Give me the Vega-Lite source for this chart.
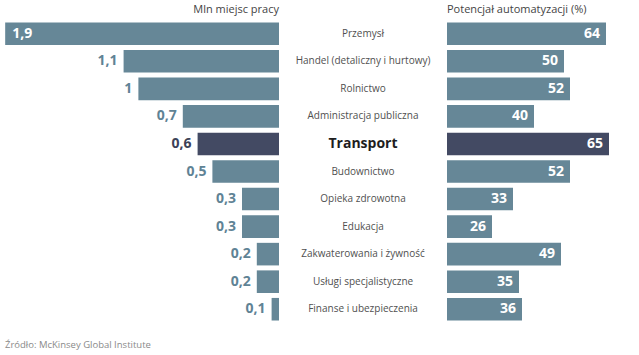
{
  "$schema": "https://vega.github.io/schema/vega-lite/v6.json",
  "padding": {"top": 4, "left": 0, "right": 0, "bottom": 0},
  "background": "white",
  "spacing": 0,
  "bounds": "flush",
  "config": {
    "view": {"stroke": null},
    "font": "Open Sans",
    "locale": {"number": {"decimal": ",", "thousands": " ", "grouping": [3], "currency": ["", " zł"]}}
  },
  "data": {"values": [
    {"sector": "Przemysł", "jobs": 1.9, "auto": 64},
    {"sector": "Handel (detaliczny i hurtowy)", "jobs": 1.1, "auto": 50},
    {"sector": "Rolnictwo", "jobs": 1.0, "auto": 52},
    {"sector": "Administracja publiczna", "jobs": 0.7, "auto": 40},
    {"sector": "Transport", "jobs": 0.6, "auto": 65},
    {"sector": "Budownictwo", "jobs": 0.5, "auto": 52},
    {"sector": "Opieka zdrowotna", "jobs": 0.3, "auto": 33},
    {"sector": "Edukacja", "jobs": 0.3, "auto": 26},
    {"sector": "Zakwaterowania i żywność", "jobs": 0.2, "auto": 49},
    {"sector": "Usługi specjalistyczne", "jobs": 0.2, "auto": 35},
    {"sector": "Finanse i ubezpieczenia", "jobs": 0.1, "auto": 36}
  ]},
  "title": {"text": "Źródło: McKinsey Global Institute", "orient": "bottom", "anchor": "start", "fontSize": 9.5, "fontWeight": "normal", "color": "#8a8a8a", "offset": 17, "dx": 5},
  "hconcat": [
    {
      "width": 279,
      "height": 303,
      "title": {"text": "Mln miejsc pracy", "anchor": "end", "fontSize": 11, "fontWeight": "normal", "color": "#444444", "offset": 5},
      "encoding": {
        "y": {"field": "sector", "type": "nominal", "sort": null, "axis": null, "scale": {"paddingInner": 0.18, "paddingOuter": 0.09}}
      },
      "layer": [
        {
          "mark": {"type": "bar"},
          "encoding": {
            "x": {"field": "jobs", "type": "quantitative", "axis": null, "scale": {"domain": [0.05, 1.935], "reverse": true, "zero": false, "nice": false}},
            "x2": {"datum": 0.05},
            "color": {"condition": {"test": "datum.sector === 'Transport'", "value": "#434a63"}, "value": "#668797"}
          }
        },
        {
          "transform": [{"filter": "datum.jobs < 1.5"}],
          "mark": {"type": "text", "align": "right", "baseline": "middle", "dx": -6, "fontWeight": "bold", "fontSize": 14},
          "encoding": {
            "x": {"field": "jobs", "type": "quantitative"},
            "text": {"field": "jobs", "type": "quantitative", "format": "~g"},
            "color": {"condition": {"test": "datum.sector === 'Transport'", "value": "#3c4258"}, "value": "#5f8395"}
          }
        },
        {
          "transform": [{"filter": "datum.jobs >= 1.5"}],
          "mark": {"type": "text", "align": "left", "baseline": "middle", "dx": 7, "fontWeight": "bold", "fontSize": 14, "color": "white"},
          "encoding": {
            "x": {"field": "jobs", "type": "quantitative"},
            "text": {"field": "jobs", "type": "quantitative", "format": "~g"}
          }
        }
      ]
    },
    {
      "width": 168,
      "height": 303,
      "encoding": {
        "y": {"field": "sector", "type": "nominal", "sort": null, "axis": null, "scale": {"paddingInner": 0.18, "paddingOuter": 0.09, "domain": ["Przemysł", "Handel (detaliczny i hurtowy)", "Rolnictwo", "Administracja publiczna", "Transport", "Budownictwo", "Opieka zdrowotna", "Edukacja", "Zakwaterowania i żywność", "Usługi specjalistyczne", "Finanse i ubezpieczenia"]}}
      },
      "layer": [
        {
          "transform": [{"filter": "datum.sector !== 'Transport'"}],
          "mark": {"type": "text", "align": "center", "baseline": "middle", "fontSize": 10, "color": "#505050"},
          "encoding": {"text": {"field": "sector", "type": "nominal"}}
        },
        {
          "transform": [{"filter": "datum.sector === 'Transport'"}],
          "mark": {"type": "text", "align": "center", "baseline": "middle", "fontSize": 14, "fontWeight": "bold", "color": "#1e1e1e"},
          "encoding": {"text": {"field": "sector", "type": "nominal"}}
        }
      ]
    },
    {
      "width": 192,
      "height": 303,
      "title": {"text": "Potencjał automatyzacji (%)", "anchor": "start", "fontSize": 11, "fontWeight": "normal", "color": "#444444", "offset": 5},
      "encoding": {
        "y": {"field": "sector", "type": "nominal", "sort": null, "axis": null, "scale": {"paddingInner": 0.18, "paddingOuter": 0.09}}
      },
      "layer": [
        {
          "mark": {"type": "bar"},
          "encoding": {
            "x": {"field": "auto", "type": "quantitative", "axis": null, "scale": {"domain": [11, 75], "zero": false, "nice": false}},
            "x2": {"datum": 11},
            "color": {"condition": {"test": "datum.sector === 'Transport'", "value": "#434a63"}, "value": "#668797"}
          }
        },
        {
          "mark": {"type": "text", "align": "right", "baseline": "middle", "dx": -6, "fontWeight": "bold", "fontSize": 14, "color": "white"},
          "encoding": {
            "x": {"field": "auto", "type": "quantitative"},
            "text": {"field": "auto", "type": "quantitative"}
          }
        }
      ]
    }
  ]
}
